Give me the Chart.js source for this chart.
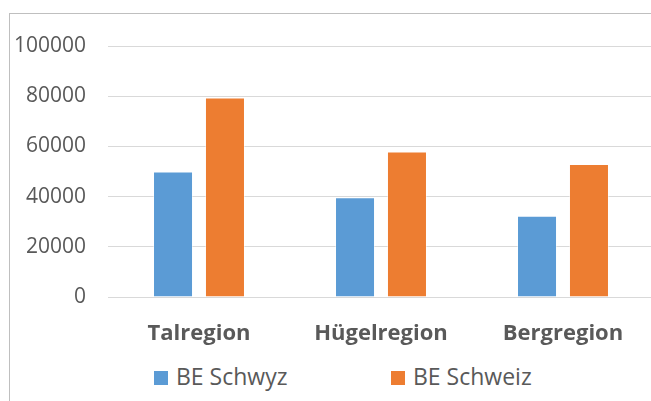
<!DOCTYPE html>
<html lang="de">
  <head>
    <meta charset="UTF-8" />
    <title>BE pro Region</title>
    <script src="https://cdn.jsdelivr.net/npm/chart.js@4/dist/chart.umd.min.js"></script>
    <style>
      html, body { margin: 0; padding: 0; overflow: hidden; background: #fff; }
      body { width: 651px; height: 401px; position: relative; font-family: "Open Sans", sans-serif; }
      #frame {
        position: absolute; left: 9px; top: 13px; width: 700px; height: 420px;
        border-left: 1px solid #bfbfbf; border-top: 1px solid #bfbfbf;
      }
      #chart-wrap { position: absolute; left: 0; top: 0; width: 660px; height: 360px; }
      #legend { position: absolute; top: 363px; left: 0; width: 660px; height: 26px; line-height: 26px; }
      .item { position: absolute; color: #595959; font-size: 23px; white-space: nowrap; }
      .box { display: inline-block; width: 14px; height: 14px; margin-right: 8px; }
    </style>
  </head>
  <body>
    <div id="frame"></div>
    <div id="chart-wrap"><canvas id="beChart"></canvas></div>
    <div id="legend"></div>

    <script>
      const regions = ["Talregion", "Hügelregion", "Bergregion"];
      const beSchwyz = [50000, 39700, 32400];
      const beSchweiz = [79500, 58000, 53000];
      const seriesNames = ["BE Schwyz", "BE Schweiz"];
      const seriesColors = ["#5b9bd5", "#ed7d31"];

      const ctx = document.getElementById("beChart").getContext("2d");
      window.myChart = new Chart(ctx, {
        type: "bar",
        data: {
          labels: regions,
          datasets: [
            {
              label: seriesNames[0],
              data: beSchwyz,
              backgroundColor: seriesColors[0],
              borderColor: "rgba(255,255,255,0.45)",
              borderWidth: 1,
            },
            {
              label: seriesNames[1],
              data: beSchweiz,
              backgroundColor: seriesColors[1],
              borderColor: "rgba(255,255,255,0.45)",
              borderWidth: 1,
            },
          ],
        },
        options: {
          responsive: true,
          maintainAspectRatio: false,
          animation: false,
          categoryPercentage: 0.571,
          barPercentage: 0.77,
          layout: { padding: { left: 0, top: 46, right: 6, bottom: 0 } },
          plugins: { legend: { display: false }, tooltip: { enabled: false } },
          scales: {
            x: {
              afterFit: (scale) => { scale.height = 63; },
              grid: { display: false, drawTicks: false },
              border: { display: false },
              ticks: {
                color: "#595959",
                padding: 24,
                font: { family: "Open Sans", size: 22, weight: "bold" },
              },
            },
            y: {
              min: 0,
              max: 100000,
              afterFit: (scale) => { scale.width = 108; },
              grid: { color: "#d9d9d9", lineWidth: 1, drawTicks: false },
              border: { display: false },
              ticks: {
                stepSize: 20000,
                color: "#595959",
                padding: 22,
                font: { family: "Open Sans", size: 21 },
                callback: (v) => String(v),
              },
            },
          },
        },
      });

      // legend drawn as html below the canvas
      const legend = document.getElementById("legend");
      const itemLeft = [154, 391];
      seriesNames.forEach((name, i) => {
        const el = document.createElement("span");
        el.className = "item";
        el.style.left = itemLeft[i] + "px";
        el.innerHTML = '<span class="box" style="background:' + seriesColors[i] + '"></span>' + name;
        legend.appendChild(el);
      });
    </script>
  </body>
</html>
